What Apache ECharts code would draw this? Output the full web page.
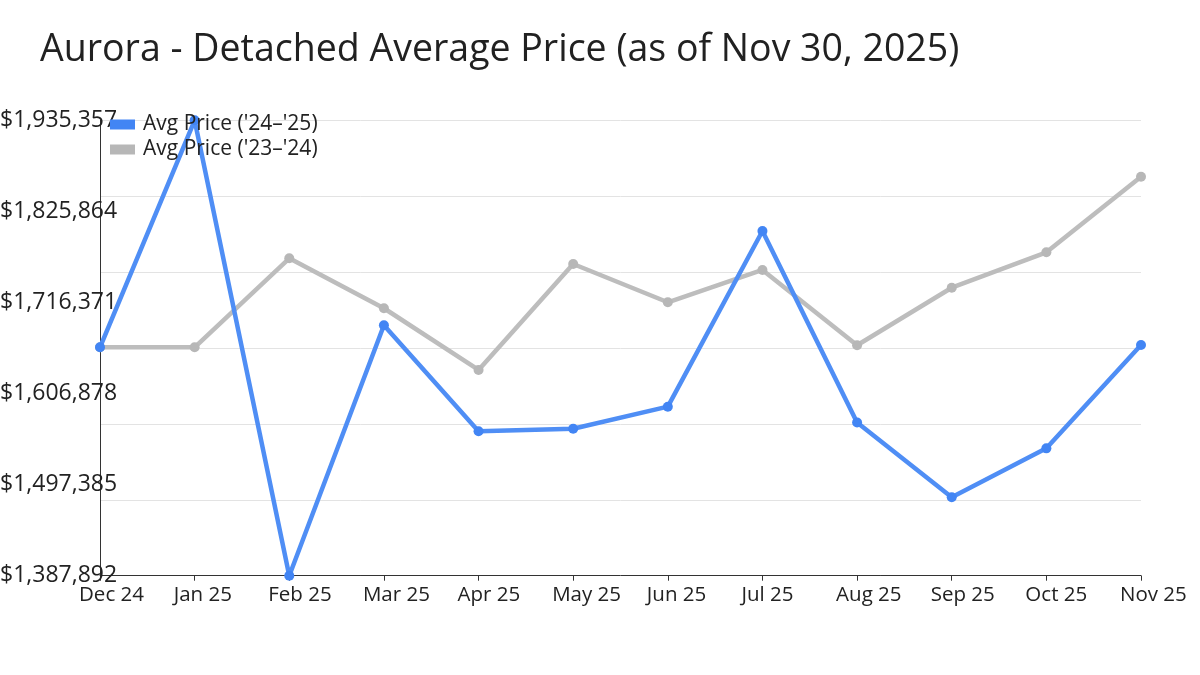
<!DOCTYPE html>
<html>
<head>
<meta charset="utf-8">
<script src="https://cdn.jsdelivr.net/npm/echarts@6/dist/echarts.min.js"></script>
<style>
  html, body { margin: 0; padding: 0; background: #ffffff; }
  #chart { width: 1200px; height: 675px; }
</style>
</head>
<body>
<div id="chart"></div>
<script>
const titleText = "Aurora - Detached Average Price (as of Nov 30, 2025)";
const months = ["Dec 24", "Jan 25", "Feb 25", "Mar 25", "Apr 25", "May 25", "Jun 25", "Jul 25", "Aug 25", "Sep 25", "Oct 25", "Nov 25"];
const seriesNames = ["Avg Price ('24\u2013'25)", "Avg Price ('23\u2013'24)"];
const price2425 = [1662474, 1935357, 1387892, 1688900, 1561500, 1564600, 1591100, 1802300, 1572100, 1482100, 1541000, 1665200];
const price2324 = [1662474, 1662474, 1769500, 1709400, 1635200, 1762600, 1716600, 1755400, 1664900, 1734100, 1776700, 1867600];
const yTicks = [1387892, 1497385, 1606878, 1716371, 1825864, 1935357];
const gridLineCount = 6;

const fmt = v => '$' + v.toLocaleString('en-US');
const FONT = "'Open Sans', 'Noto Sans', sans-serif";

const chart = echarts.init(document.getElementById('chart'), null, { renderer: 'canvas' });
chart.setOption({
  backgroundColor: '#ffffff',
  animation: false,
  title: {
    text: titleText,
    left: 35,
    top: 26,
    textStyle: { fontFamily: FONT, fontSize: 37.5, fontWeight: 'normal', color: '#212121' }
  },
  legend: {
    data: seriesNames,
    orient: 'vertical',
    left: 105,
    top: 109,
    itemWidth: 25,
    itemHeight: 10,
    itemGap: 4,
    itemStyle: { borderWidth: 0 },
    icon: 'rect',
    textStyle: { fontFamily: FONT, fontSize: 21, color: '#222', lineHeight: 21, padding: [0, 0, 0, 3] }
  },
  grid: { left: 100, right: 59, top: 120.3, bottom: 99.3, containLabel: false, outerBoundsMode: 'none' },
  xAxis: {
    type: 'category',
    data: months,
    boundaryGap: false,
    axisLine: { show: true, lineStyle: { color: '#333', width: 1 } },
    axisTick: { show: true, length: 5, lineStyle: { color: '#333' } },
    axisLabel: { interval: 0, margin: 9, align: 'left', padding: [0, 0, 0, -21], fontFamily: FONT, fontSize: 20.5, color: '#222' },
    splitLine: { show: false }
  },
  yAxis: [
    {
      type: 'value',
      min: yTicks[0],
      max: yTicks[yTicks.length - 1],
      axisLine: { show: true, lineStyle: { color: '#333', width: 1 } },
      axisTick: { show: false },
      axisLabel: { show: false },
      splitLine: { show: false }
    },
    {
      type: 'value',
      position: 'left',
      min: 0,
      max: yTicks.length - 1,
      interval: 1,
      axisLine: { show: false },
      axisTick: { show: false },
      splitLine: { show: false },
      axisLabel: {
        formatter: v => fmt(yTicks[Math.round(v)]),
        align: 'left',
        margin: 100,
        fontFamily: FONT,
        fontSize: 23,
        color: '#222',
        padding: [0, 0, 5, 0]
      }
    },
    {
      type: 'value',
      position: 'left',
      min: 0,
      max: gridLineCount,
      interval: 1,
      axisLine: { show: false },
      axisTick: { show: false },
      axisLabel: { show: false },
      splitLine: { show: true, lineStyle: { color: '#e3e3e3', width: 1 } }
    }
  ],
  series: [
    {
      name: seriesNames[0],
      type: 'line',
      yAxisIndex: 0,
      data: price2425,
      symbol: 'circle',
      symbolSize: 10,
      lineStyle: { color: '#4f8ef5', width: 4.5 },
      itemStyle: { color: '#4285F4' },
      z: 3
    },
    {
      name: seriesNames[1],
      type: 'line',
      yAxisIndex: 0,
      data: price2324,
      symbol: 'circle',
      symbolSize: 10,
      lineStyle: { color: '#bdbdbd', width: 4.5 },
      itemStyle: { color: '#b7b7b7' },
      z: 2
    }
  ]
});
</script>
</body>
</html>
